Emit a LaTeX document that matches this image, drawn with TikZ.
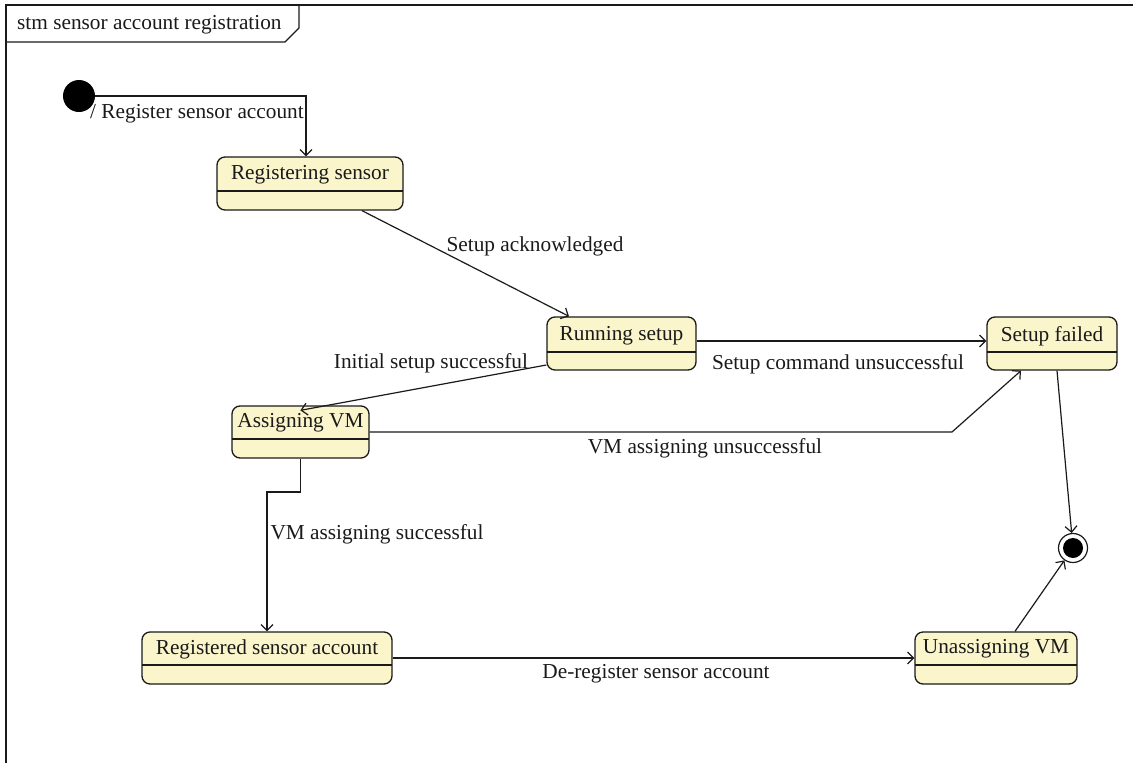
\documentclass[tikz,border=0pt]{standalone}
\usepackage{fontspec}
\setmainfont{Liberation Serif}
\usetikzlibrary{arrows.meta,fit,calc}
\definecolor{statefill}{HTML}{FBF5CB}
\definecolor{ink}{HTML}{1A1A1A}
\tikzset{
  txt/.style={font=\fontsize{21.3}{25}\selectfont, text=ink, inner sep=0pt},
  statebox/.style={draw=ink, line width=1.3pt, fill=statefill, rounded corners=8pt, inner sep=0pt},
  divider/.style={draw=ink, line width=1.3pt},
  tr/.style={draw=ink, line width=1.2pt, -{Straight Barb[length=6pt,width=12pt,line width=1.2pt]}},
  frameline/.style={draw=ink, line width=1.3pt},
}
\newcommand{\umlstate}[8]{% name, x1,y1,x2,y2, ydiv, ytext, text
  \node[statebox, fit={(#2,#3)(#4,#5)}] (#1) {};
  \draw[divider] (#2,#6) -- (#4,#6);
  \node[txt] (#1-name) at ({(#2+#4)/2},#7) {#8};
}
\begin{document}
\begin{tikzpicture}[x=1pt,y=-1pt]
\useasboundingbox (0,0) rectangle (1133,763);
% frame
\draw[frameline] (6,763) -- (6,5) -- (1133,5);
\draw[frameline] (6,42) -- (285,42) -- (299,28) -- (299,5);
\node[txt, anchor=west] (framelabel) at (17,25) {stm sensor account registration};
% initial
\node[circle, fill=black, minimum size=32pt, inner sep=0pt] (init) at (79,96) {};
% states
\umlstate{regs}{217}{157}{403}{210}{191}{175}{Registering sensor}
\umlstate{run}{547}{317}{696}{370}{352}{336}{Running setup}
\umlstate{fail}{987}{317}{1117}{370}{352}{336}{Setup failed}
\umlstate{assign}{232}{406}{369}{458}{439}{423}{Assigning VM}
\umlstate{reg}{142}{632}{392}{684}{665}{649}{Registered sensor account}
\umlstate{unassign}{915}{632}{1077}{684}{665}{649}{Unassigning VM}
% final
\node[circle, draw=ink, line width=1.2pt, fill=white, minimum size=29pt, inner sep=0pt] (final) at (1073,548) {};
\node[circle, fill=black, minimum size=20pt, inner sep=0pt] (finaldot) at (final) {};
% transitions
\draw[tr] (init.east) -| ([xshift=-4pt]regs.north);
\node[txt, anchor=west] (l1) at (90,114) {/ Register sensor account};
\draw[tr] ([xshift=52pt]regs.south) -- ([xshift=-52.5pt]run.north);
\node[txt] (l2) at (535,246) {Setup acknowledged};
\draw[tr] ([yshift=2.5pt]run.east) -- ([yshift=2.5pt]fail.west);
\node[txt] (l3) at (838,364) {Setup command unsuccessful};
\draw[tr] ([yshift=-21.5pt]run.west) -- ([xshift=69pt,yshift=-5pt]assign.north west);
\node[txt] (l4) at (431,363) {Initial setup successful};
\draw[tr] (assign.east |- 0,432) -- (952,432) -- ([xshift=-31pt]fail.south);
\node[txt] (l5) at (705,448) {VM assigning unsuccessful};
\draw[tr] (assign.south) -- (300.5,492) -| (reg.north -| 267,0);
\node[txt] (l6) at (377,534) {VM assigning successful};
\draw[tr] (reg.east |- 0,658) -- (unassign.west |- 0,658);
\node[txt] (l7) at (656,674) {De-register sensor account};
\draw[tr] (unassign.north -| 1015,0) -- (final);
\draw[tr] ([xshift=5pt]fail.south) -- (final);
\end{tikzpicture}
\end{document}
